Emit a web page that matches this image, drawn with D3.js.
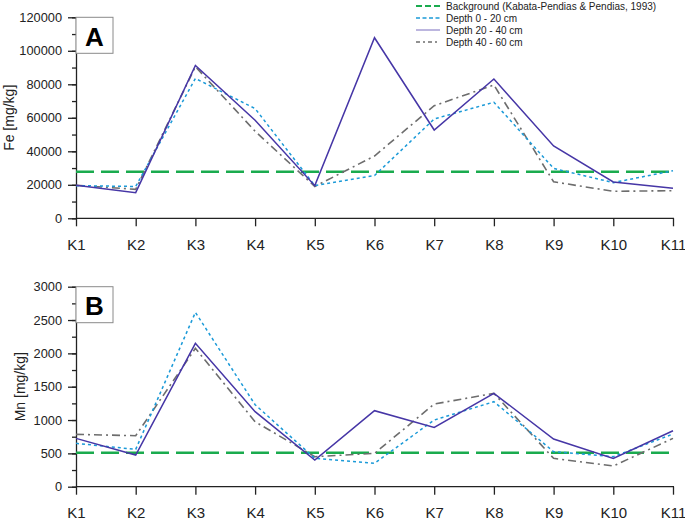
<!DOCTYPE html>
<html>
<head>
<meta charset="utf-8">
<title>Fe Mn</title>
<script src="https://cdnjs.cloudflare.com/ajax/libs/d3/7.8.5/d3.min.js"></script>
<style>
    html, body { margin: 0; background: #fff; }
    svg { display: block; font-family: "Liberation Sans", Arial, sans-serif; }
    .axis path, .axis line { stroke: #222; stroke-width: 1.3; }
    .axis text { fill: #222; }
</style>
</head>
<body>
<script>
    var width = 685, height = 520;

    // sampling points
    var sites = ["K1","K2","K3","K4","K5","K6","K7","K8","K9","K10","K11"];

    // Fe [mg/kg]
    var feDepth0 = [19500, 19000, 83500, 65500, 19500, 25500, 59300, 69300, 29800, 21300, 28400];
    var feDepth20 = [19800, 15300, 91300, 58500, 19500, 107800, 52700, 83200, 43200, 21700, 17900];
    var feDepth40 = [19700, 17300, 90500, 52000, 19000, 37200, 67200, 79600, 21800, 16100, 16500];
    var feBackground = 27800;
    var feTicks = [0, 20000, 40000, 60000, 80000, 100000, 120000];

    // Mn [mg/kg]
    var mnDepth0 = [650, 560, 2615, 1230, 425, 350, 1000, 1275, 525, 450, 790];
    var mnDepth20 = [725, 475, 2150, 1125, 400, 1140, 890, 1400, 715, 425, 840];
    var mnDepth40 = [785, 765, 2075, 975, 450, 500, 1240, 1400, 425, 310, 725];
    var mnBackground = 510;
    var mnTicks = [0, 500, 1000, 1500, 2000, 2500, 3000];

    var legendLabels = ["Background (Kabata-Pendias & Pendias, 1993)", "Depth 0 - 20 cm", "Depth 20 - 40 cm", "Depth 40 - 60 cm"];

    var styles = {
        bg: {color: "#1aab4e", width: 2.6, dash: "18,7"},
        d0: {color: "#1b9ad8", width: 1.5, dash: "3,3"},
        d20: {color: "#4636a6", width: 1.5, dash: null},
        d40: {color: "#6d6d6d", width: 1.6, dash: "8,4,2,4"}
    };

    var svg = d3.select("body").append("svg")
        .attr("width", width).attr("height", height);

    var x = d3.scalePoint().domain(sites).range([76, 673]);

    function panel(opt) {
        var y = d3.scaleLinear().domain([0, opt.max]).range([opt.bottom, opt.top]);
        var g = svg.append("g");

        // minor ticks
        var minor = d3.range(0, opt.max + 1, opt.minorStep);
        g.append("g").attr("class", "axis")
            .attr("transform", "translate(76,0)")
            .call(d3.axisLeft(y).tickValues(minor).tickSize(4).tickFormat(""))
            .call(function (s) { s.select(".domain").remove(); });

        var ya = g.append("g").attr("class", "axis")
            .attr("transform", "translate(76,0)")
            .call(d3.axisLeft(y).tickValues(opt.ticks).tickSize(8).tickSizeOuter(0).tickPadding(6).tickFormat(d3.format("d")));
        ya.selectAll("text").style("font-size", "12.8px");

        var xa = g.append("g").attr("class", "axis")
            .attr("transform", "translate(0," + opt.bottom + ")")
            .call(d3.axisBottom(x).tickSize(8).tickSizeOuter(0).tickPadding(13));
        xa.select(".domain").attr("d", "M76,0H674");
        xa.selectAll("text").style("font-size", "15px");

        g.append("text")
            .attr("transform", "translate(" + opt.labelX + "," + ((opt.top + opt.bottom) / 2) + ") rotate(-90)")
            .attr("text-anchor", "middle")
            .style("font-size", "14px")
            .attr("fill", "#222")
            .text(opt.label);

        // background level
        g.append("line")
            .attr("x1", x("K1")).attr("x2", x("K11"))
            .attr("y1", y(opt.bg)).attr("y2", y(opt.bg))
            .attr("stroke", styles.bg.color)
            .attr("stroke-width", styles.bg.width)
            .attr("stroke-dasharray", styles.bg.dash);

        var line = d3.line()
            .x(function (d, i) { return x(sites[i]); })
            .y(function (d) { return y(d); });

        [["d40", opt.s40], ["d0", opt.s0], ["d20", opt.s20]].forEach(function (s) {
            var st = styles[s[0]];
            g.append("path")
                .datum(s[1])
                .attr("d", line)
                .attr("fill", "none")
                .attr("stroke", st.color)
                .attr("stroke-width", st.width)
                .attr("stroke-dasharray", st.dash);
        });

        // panel letter
        g.append("rect")
            .attr("x", 76).attr("y", opt.top)
            .attr("width", 37).attr("height", 36)
            .attr("fill", "#fff")
            .attr("stroke", "#8a8a8a").attr("stroke-width", 1);
        g.append("text")
            .attr("x", 94.5).attr("y", opt.top + 28.5)
            .attr("text-anchor", "middle")
            .style("font-size", "26px").style("font-weight", "bold")
            .text(opt.letter);
    }

    panel({top: 17.3, bottom: 218.3, max: 120000, minorStep: 10000, ticks: feTicks,
        label: "Fe [mg/kg]", labelX: 14, letter: "A", bg: feBackground,
        s0: feDepth0, s20: feDepth20, s40: feDepth40});

    panel({top: 286.7, bottom: 486.7, max: 3000, minorStep: 250, ticks: mnTicks,
        label: "Mn [mg/kg]", labelX: 25, letter: "B", bg: mnBackground,
        s0: mnDepth0, s20: mnDepth20, s40: mnDepth40});

    // legend
    var keys = ["bg", "d0", "d20", "d40"];
    var leg = svg.append("g").attr("transform", "translate(416,6)");
    keys.forEach(function (k, i) {
        var st = styles[k];
        var row = leg.append("g").attr("transform", "translate(0," + (i * 12) + ")");
        row.append("line")
            .attr("x1", 0).attr("x2", 24).attr("y1", 0).attr("y2", 0)
            .attr("stroke", st.color)
            .attr("stroke-width", k === "bg" ? 2.2 : (k === "d20" ? 1.2 : 1.5))
            .attr("stroke-opacity", k === "d20" ? 0.6 : 1)
            .attr("stroke-dasharray", k === "bg" ? "6,3" : (k === "d0" ? "4,2.5" : st.dash ? "4,3,2,3" : null));
        row.append("text")
            .attr("x", 30).attr("y", 3.5)
            .style("font-size", "10px")
            .attr("fill", "#222")
            .text(legendLabels[i]);
    });
</script>
</body>
</html>
